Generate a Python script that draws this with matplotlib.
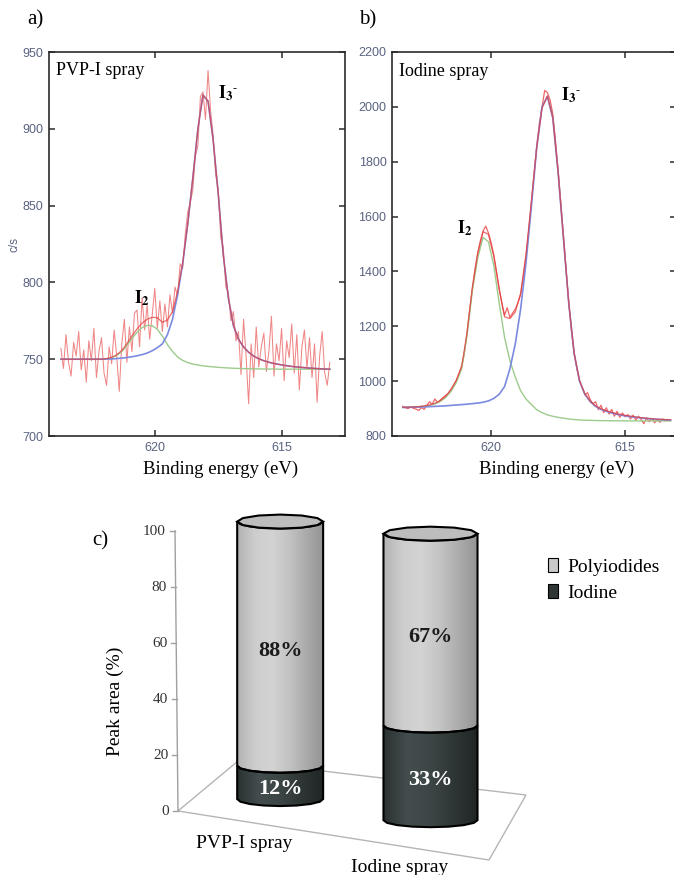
import numpy as np
import matplotlib
matplotlib.use("Agg")
import matplotlib.pyplot as plt
from matplotlib.patches import Polygon, Patch
from matplotlib.colors import LinearSegmentedColormap

plt.rcParams['font.family'] = ['Liberation Serif', 'DejaVu Serif']
plt.rcParams['mathtext.fontset'] = 'stix'

# I 3d5/2 spectrum, PVP-I spray: counts every 0.1 eV, 623.7 -> 613.1 eV
counts_a = [757, 744, 766, 748, 739, 761, 752, 768, 743, 756,
            735, 762, 749, 770, 738, 755, 764, 741, 733, 758,
            747, 769, 752, 729, 760, 776, 748, 771, 755, 780,
            782, 758, 790, 769, 785, 763, 779, 796, 770, 788,
            768, 786, 771, 792, 780, 797, 791, 812, 809, 831,
            846, 852, 860, 882, 889, 921, 924, 906, 938, 912,
            896, 870, 861, 829, 823, 797, 794, 775, 781, 762,
            768, 740, 776, 752, 721, 760, 738, 771, 745, 758,
            767, 742, 755, 778, 739, 760, 749, 770, 736, 762,
            751, 773, 741, 766, 730, 758, 769, 744, 764, 738,
            760, 722, 752, 768, 741, 733, 748]
# fitted curves, 0.2 eV grid, 623.7 -> 613.1 eV
fit_i3_a = [750, 750, 750, 750, 750, 750, 750, 750, 750, 750.1,
            750.2, 750.4, 750.7, 751.1, 751.6, 752.2, 753.0, 754.0, 755.5, 757.5,
            760, 766, 776, 792, 812, 838, 868, 900, 922, 918,
            893, 858, 818, 790, 772, 763, 758, 754.5, 752, 750.3,
            749, 748, 747.2, 746.6, 746, 745.5, 745.1, 744.8, 744.5, 744.2,
            744, 743.8, 743.6, 743.5]
fit_i2_a = [750, 750, 750, 750, 750, 750, 750, 750, 750, 750.3,
            751, 752.5, 755, 759, 763.5, 767.5, 770.5, 772, 771.8, 769.5,
            765, 759.5, 755, 751.5, 749.2, 747.8, 746.8, 746.2, 745.7, 745.3,
            745, 744.7, 744.5, 744.3, 744.1, 744, 743.9, 743.8, 743.7, 743.7,
            743.6, 743.6, 743.6, 743.5, 743.5, 743.5, 743.5, 743.5, 743.5, 743.5,
            743.5, 743.5, 743.5, 743.5]
fit_sum_a = [750, 750, 750, 750, 750, 750, 750, 750, 750, 750.4,
             751.2, 752.9, 755.7, 760.1, 765.1, 769.7, 773.5, 776, 777.3, 777,
             774, 775.5, 781, 794, 813, 838, 868, 900, 922, 918,
             893, 858, 818, 790, 772, 763, 758, 754.5, 752, 750.3,
             749, 748, 747.2, 746.6, 746, 745.5, 745.1, 744.8, 744.5, 744.2,
             744, 743.8, 743.6, 743.5]

# I 3d5/2 spectrum, iodine spray: counts every 0.1 eV, 623.3 -> 613.4 eV
counts_b = [908, 903, 900, 906, 901, 898, 893, 904, 897, 912,
            925, 915, 935, 922, 931, 940, 948, 955, 970, 985,
            1003, 1028, 1055,
            1100, 1176, 1262, 1340, 1410, 1468, 1512, 1548, 1565, 1540,
            1505, 1460, 1400, 1338, 1285, 1240, 1268, 1232, 1248, 1262,
            1285, 1315, 1378, 1455, 1545, 1650, 1755, 1855, 1940, 2000,
            2060, 2052, 2025, 1975, 1880, 1770, 1650, 1530, 1405, 1285,
            1180, 1100, 1045, 1002, 975, 950, 958, 932, 918, 925,
            896, 912, 885, 903, 880, 897, 872, 890, 868, 884,
            870, 878, 862, 876, 858, 872, 860, 845, 866, 852,
            864, 848, 860, 850, 862, 855, 860]
# fitted curves, 0.2 eV grid, 623.3 -> 613.3 eV
fit_i3_b = [904, 904.5, 905, 905.5, 906, 907, 908, 909, 910, 911.5,
            913, 914.5, 916, 918, 920, 923, 928, 937, 952, 980,
            1045, 1135, 1262, 1430, 1635, 1850, 2000, 2038, 1960, 1760,
            1520, 1280, 1100, 1000, 952, 925, 908, 897, 890, 884,
            879, 875, 872, 869, 867, 865, 863, 861.5, 860, 859, 858]
fit_i2_b = [905, 905, 906, 907, 909, 912, 917, 926, 940, 962,
            995, 1045, 1165, 1330, 1450, 1524, 1508, 1420, 1285, 1160,
            1075, 1015, 965, 935, 915, 896, 885, 877, 872, 868,
            865, 862, 860, 858.5, 857.5, 857, 856.5, 856, 856, 855.5,
            855.5, 855.5, 855, 855, 855, 855, 855, 855, 855, 855, 855]
fit_sum_b = [905, 905, 906, 907, 910, 913, 919, 929, 945, 969,
             1003, 1053, 1176, 1340, 1465, 1545, 1535, 1455, 1335, 1235,
             1228, 1252, 1320, 1462, 1652, 1851, 1995, 2040, 1962, 1762,
             1522, 1282, 1102, 1002, 954, 927, 910, 899, 892, 886,
             881, 877, 874, 871, 868, 866, 864, 862, 861, 860, 859]

# peak area shares
sprays = ['PVP-I spray', 'Iodine spray']
iodine_pct = [12, 33]
polyiodide_pct = [88, 67]
area_ticks = [0, 20, 40, 60, 80, 100]

TICK_COL = '#5a6382'
SPINE_COL = '#2b2b2b'
I3_LABEL = r'$\mathbf{I_3}^{\text{-}}$'
I2_LABEL = r'$\mathbf{I_2}$'

fig = plt.figure(figsize=(6.74, 8.75), dpi=100)


def px_axes(left, top, right, bottom):
    W, H = 674, 875
    return fig.add_axes([left / W, 1 - bottom / H, (right - left) / W, (bottom - top) / H])


def spectrum(ax, be, counts, be_fit, i3, i2, total, raw_col, raw_lw):
    ax.plot(be, counts, color=raw_col, lw=raw_lw, zorder=2)
    ax.plot(be_fit, i2, color='#9dcb8c', lw=1.0, zorder=3)
    ax.plot(be_fit, i3, color='#7b8ae0', lw=1.2, zorder=3)
    ax.plot(be_fit, total, color='#e23b3b', lw=0.9, alpha=0.75, zorder=4)
    ax.set_xticks([620, 615])
    ax.tick_params(direction='in', top=True, right=True, length=4, width=1.1,
                   color=SPINE_COL, labelsize=9, labelcolor=TICK_COL,
                   labelfontfamily='Liberation Sans', pad=4)
    for s in ax.spines.values():
        s.set_color(SPINE_COL)
        s.set_linewidth(1.2)
    ax.text(0.58, -0.088, 'Binding energy (eV)', transform=ax.transAxes,
            ha='center', va='center', fontsize=13.5)


# a) PVP-I spray
ax_a = px_axes(49, 52, 345, 436)
be_a = np.linspace(623.7, 613.1, len(counts_a))
be_fit_a = np.linspace(623.7, 613.1, len(fit_i3_a))
spectrum(ax_a, be_a, counts_a, be_fit_a, fit_i3_a, fit_i2_a, fit_sum_a, '#f08686', 0.75)
ax_a.set_xlim(624.17, 612.5)
ax_a.set_ylim(700, 950)
ax_a.set_yticks([700, 750, 800, 850, 900, 950])
fig.text(15 / 674, 1 - 244 / 875, 'c/s', rotation=90, ha='center', va='center',
         family='Liberation Sans', fontsize=8.5, color=TICK_COL)
ax_a.text(0.024, 0.953, 'PVP-I spray', transform=ax_a.transAxes, va='center', fontsize=13)
ax_a.text(617.1, 923, I3_LABEL, ha='center', va='center', fontsize=13)
ax_a.text(620.5, 790, I2_LABEL, ha='center', va='center', fontsize=13)
fig.text(35 / 674, 1 - 20 / 875, 'a)', ha='center', va='center', fontsize=15)

# b) iodine spray
ax_b = px_axes(392, 52, 676, 436)
be_b = np.linspace(623.3, 613.4, len(counts_b))
be_fit_b = np.linspace(623.3, 613.3, len(fit_i3_b))
spectrum(ax_b, be_b, counts_b, be_fit_b, fit_i3_b, fit_i2_b, fit_sum_b, '#ee6666', 0.9)
ax_b.set_xlim(623.7, 613.1)
ax_b.set_ylim(800, 2200)
ax_b.set_yticks(np.arange(800, 2201, 200))
ax_b.text(0.025, 0.948, 'Iodine spray', transform=ax_b.transAxes, va='center', fontsize=13)
ax_b.text(617.0, 2043, I3_LABEL, ha='center', va='center', fontsize=13)
ax_b.text(621.0, 1558, I2_LABEL, ha='center', va='center', fontsize=13)
fig.text(368 / 674, 1 - 20 / 875, 'b)', ha='center', va='center', fontsize=15)

# c) stacked 3-D cylinders, drawn in figure pixel units
ax_c = px_axes(0, 500, 674, 875)
ax_c.axis('off')

FLOOR = np.array([[178, 811], [489, 860], [238, 761], [526, 795]], float)  # FL, FR, BL, BR
DEPTH = 0.45
AXIS_SCALE = 2.80


def floor_pt(u, d):
    fl, fr, bl, br = FLOOR
    return (1 - u) * (1 - d) * fl + u * (1 - d) * fr + (1 - u) * d * bl + u * d * br


def arc(cx, cy, rx, ry, t0, t1, n=9):
    t = np.linspace(t0, t1, n)
    return np.column_stack([cx + rx * np.cos(t), cy + ry * np.sin(t)])


LIGHT = LinearSegmentedColormap.from_list(
    'light', ['#b2b2b2', '#cdcdcd', '#d3d3d3', '#c4c4c4', '#acacac', '#949494'])
DARK = LinearSegmentedColormap.from_list(
    'dark', ['#2a3131', '#434d4d', '#3d4646', '#2e3535', '#202626'])

# floor outline
ax_c.add_patch(Polygon(FLOOR[[0, 1, 3, 2]], closed=True, fill=False,
                       edgecolor='#b5b5b5', lw=1.0, zorder=1))

# value axis on the front-left corner
x0, y0 = floor_pt(0, 0)
ax_c.plot([x0, x0 - 3], [y0, y0 - 100 * AXIS_SCALE], color='#a0a0a0', lw=1.0, zorder=1)
for t in area_ticks:
    y = y0 - t * AXIS_SCALE
    xa = x0 - 3 * t / 100
    ax_c.plot([xa - 5, xa], [y, y], color='#a0a0a0', lw=1.0, zorder=1)
    ax_c.text(xa - 9, y, str(t), ha='right', va='center', fontsize=11, color='#333333')
ax_c.text(115, y0 - 50 * AXIS_SCALE + 30, 'Peak area (%)', rotation=90,
          ha='center', va='center', fontsize=14)
ax_c.text(100, 541, 'c)', ha='center', va='center', fontsize=15)

for i, name in enumerate(sprays):
    u = 0.25 + 0.5 * i
    cx, cy = floor_pt(u, DEPTH)
    k = 1 + 0.18 * (u - 0.5)
    rx, ry = 45 * k, 7
    scale = 2.82 * (1 + 0.064 * (u - 0.5))
    level = 0
    for value, cmap, tcol in [(iodine_pct[i], DARK, 'white'),
                              (polyiodide_pct[i], LIGHT, '#1c1c1c')]:
        yb = cy - level * scale
        yt = cy - (level + value) * scale
        pts = np.vstack([arc(cx, yb, rx, ry, np.pi, 0), arc(cx, yt, rx, ry, 0, np.pi)])
        outline = Polygon(pts, closed=True, fill=False, edgecolor='black', lw=1.5, zorder=4)
        ax_c.add_patch(outline)
        im = ax_c.imshow(np.linspace(0, 1, 128)[None, :], cmap=cmap,
                         extent=(cx - rx, cx + rx, yb + ry, yt - ry),
                         aspect='auto', interpolation='bilinear', zorder=3)
        im.set_clip_path(outline)
        ax_c.text(cx, (yb + yt) / 2 + ry, f'{value}%', ha='center', va='center',
                  fontsize=16, fontweight='bold', color=tcol, zorder=6)
        level += value
    ax_c.add_patch(Polygon(arc(cx, yt, rx, ry, 0, 2 * np.pi, 13), closed=True,
                           facecolor='#bdbdbd', edgecolor='black', lw=1.5, zorder=5))
    lx, ly = floor_pt(u, 0)
    ax_c.text(lx - 12, ly + 20, name, ha='center', va='center', fontsize=14)

ax_c.set_xlim(0, 674)
ax_c.set_ylim(875, 500)

handles = [Patch(facecolor='#c9c9c9', edgecolor='black', lw=0.8, label='Polyiodides'),
           Patch(facecolor='#2f3636', edgecolor='black', lw=0.8, label='Iodine')]
fig.legend(handles=handles, loc='upper left', bbox_to_anchor=(548 / 674, 1 - 558 / 875),
           frameon=False, fontsize=14, handlelength=0.5, handleheight=0.7,
           handletextpad=0.5, labelspacing=0.45, borderpad=0, borderaxespad=0)

fig.savefig('out.png', dpi=100)
